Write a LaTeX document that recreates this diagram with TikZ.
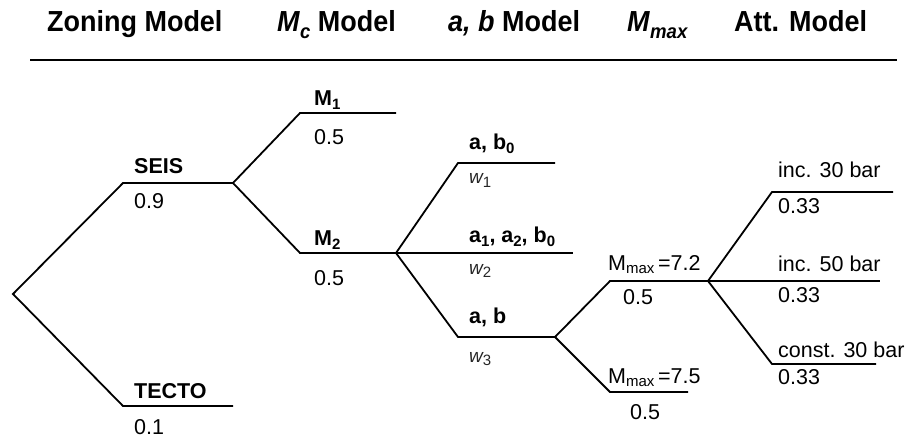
\documentclass[tikz,border=0pt]{standalone}
\usepackage{fontspec}
\setmainfont{Liberation Sans}
\newfontfamily\bodyfont{Liberation Sans}
\newfontfamily\headfont[FakeStretch=0.93]{Liberation Sans}
\newcommand{\lsub}[1]{\raisebox{-0.35ex}{\fontsize{15}{15}\selectfont #1}}
\newcommand{\hsub}[1]{\raisebox{-0.4ex}{\fontsize{20}{20}\selectfont #1}}
\usetikzlibrary{positioning}

\begin{document}
\begin{tikzpicture}[
  x=1pt, y=-1pt,
  branch/.style={draw=black, line width=1.8pt},
  rule/.style={draw=black, line width=2.6pt},
  header/.style={
    anchor=base west, inner sep=0pt,
    font=\headfont\fontsize{29}{32}\selectfont\bfseries
  },
  toplbl/.style={
    anchor=base west, inner sep=0pt, xshift=11pt, yshift=9pt,
    font=\bodyfont\fontsize{21.5}{24}\selectfont
  },
  choice/.style={
    toplbl, font=\bodyfont\fontsize{21.5}{24}\selectfont\bfseries
  },
  prob/.style={
    anchor=base west, inner sep=0pt, xshift=11pt, yshift=-24pt,
    font=\bodyfont\fontsize{21.5}{24}\selectfont
  },
  wlbl/.style={
    prob, yshift=3pt, text=black!85,
    font=\bodyfont\fontsize{19}{22}\selectfont\itshape
  }
]

\useasboundingbox (0,0) rectangle (914,441);

\coordinate (ruleL) at (30,60);
\coordinate (ruleR) at (897,60);

\coordinate (root) at (13,294);
\coordinate (seisL) at (123,183);
\coordinate (seisR) at (233,183);
\coordinate (tectoL) at (123,406);
\coordinate (tectoR) at (233,406);
\coordinate (mOneL) at (300,113);
\coordinate (mOneR) at (396,113);
\coordinate (mTwoL) at (300,253);
\coordinate (mTwoR) at (396,253);
\coordinate (abzL) at (458,163);
\coordinate (abzR) at (555,163);
\coordinate (aabR) at (573,253);
\coordinate (abL) at (458,337);
\coordinate (abR) at (555,337);
\coordinate (mxaL) at (610,281);
\coordinate (mxaR) at (708,281);
\coordinate (mxbL) at (610,392);
\coordinate (mxbR) at (688,392);
\coordinate (incaL) at (772,192);
\coordinate (incaR) at (893,192);
\coordinate (incbR) at (880,281);
\coordinate (constL) at (772,364);
\coordinate (constR) at (876,364);

\node[header] (hZone) at (47,32) {Zoning Model};
\node[header] (hMc) at (277,32) {\textit{M}\hsub{\textit{c}} Model};
\node[header] (hAb) at (448,32) {\textit{a, b} Model};
\node[header] (hMmax) at (627,32) {\textit{M}\hsub{\textit{max}}};
\node[header] (hAtt) at (734,32) {Att. Model};

\draw[rule] (ruleL) -- (ruleR);

\draw[branch] (seisR) -- (seisL) -- (root) -- (tectoL) -- (tectoR);
\draw[branch] (mOneR) -- (mOneL) -- (seisR) -- (mTwoL) -- (mTwoR);
\draw[branch] (abzR) -- (abzL) -- (mTwoR) -- (abL) -- (abR);
\draw[branch] (mTwoR) -- (aabR);
\draw[branch] (mxaR) -- (mxaL) -- (abR) -- (mxbL) -- (mxbR);
\draw[branch] (incaR) -- (incaL) -- (mxaR) -- (constL) -- (constR);
\draw[branch] (mxaR) -- (incbR);

\node[choice] (seis) at (seisL) {SEIS};
\node[prob, yshift=-2pt] (pSeis) at (seisL) {0.9};
\node[choice, yshift=-1pt] (tecto) at (tectoL) {TECTO};
\node[prob, yshift=-4pt] (pTecto) at (tectoL) {0.1};

\node[choice, xshift=3pt, yshift=-2pt] (mOne) at (mOneL) {M\lsub{1}};
\node[prob, xshift=3pt, yshift=-8pt] (pMOne) at (mOneL) {0.5};
\node[choice, xshift=3pt, yshift=-2pt] (mTwo) at (mTwoL) {M\lsub{2}};
\node[prob, xshift=3pt, yshift=-8pt] (pMTwo) at (mTwoL) {0.5};

\node[choice, yshift=4pt] (abz) at (abzL) {a, b\lsub{0}};
\node[wlbl] (wOne) at (abzL) {w\lsub{\upshape 1}};
\node[choice, yshift=1pt] (aab) at (abzL |- aabR) {a\lsub{1}, a\lsub{2}, b\lsub{0}};
\node[wlbl] (wTwo) at (abzL |- aabR) {w\lsub{\upshape 2}};
\node[choice, yshift=5pt] (ab) at (abL) {a, b};
\node[wlbl, yshift=-4pt] (wThree) at (abL) {w\lsub{\upshape 3}};

\node[toplbl, xshift=-13pt, yshift=2pt] (mxa) at (mxaL) {M\lsub{max}\,=7.2};
\node[prob, xshift=2pt, yshift=1pt] (pMxa) at (mxaL) {0.5};
\node[toplbl, xshift=-13pt] (mxb) at (mxbL) {M\lsub{max}\,=7.5};
\node[prob, xshift=9pt, yshift=-3pt] (pMxb) at (mxbL) {0.5};

\node[toplbl, xshift=-5pt, yshift=5pt] (inca) at (incaL) {inc. 30 bar};
\node[prob, xshift=-5pt, yshift=2pt] (pInca) at (incaL) {0.33};
\node[toplbl, xshift=-5pt, yshift=1pt] (incb) at (incaL |- incbR) {inc. 50 bar};
\node[prob, xshift=-5pt, yshift=3pt] (pIncb) at (incaL |- incbR) {0.33};
\node[toplbl, xshift=-5pt, yshift=-2pt] (const) at (constL) {const. 30 bar};
\node[prob, xshift=-5pt, yshift=4pt] (pConst) at (constL) {0.33};

\end{tikzpicture}
\end{document}
